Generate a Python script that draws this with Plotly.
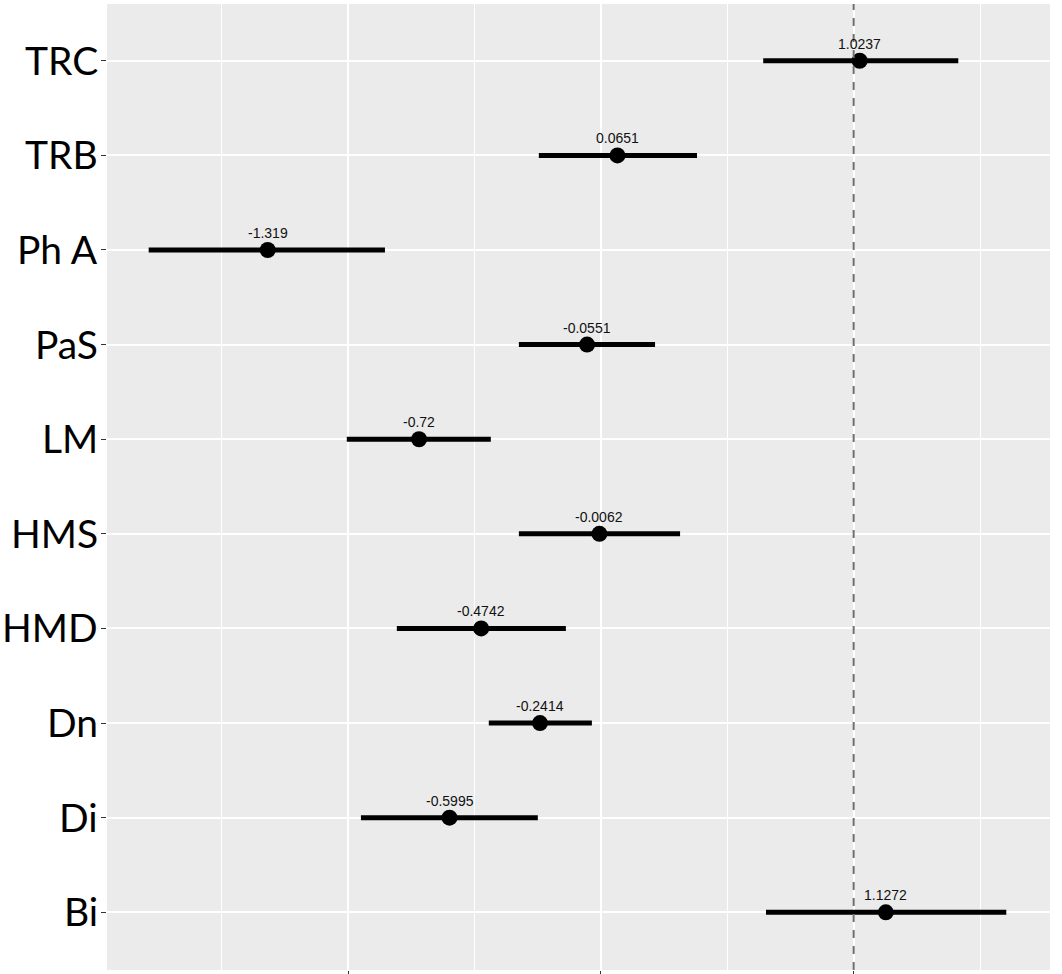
import plotly.graph_objects as go

categories = ["Bi", "Di", "Dn", "HMD", "HMS", "LM", "PaS", "Ph A", "TRB", "TRC"]
estimates = [1.1272, -0.5995, -0.2414, -0.4742, -0.0062, -0.72, -0.0551, -1.319, 0.0651, 1.0237]
lower = [0.653, -0.950, -0.444, -0.808, -0.325, -1.006, -0.325, -1.790, -0.246, 0.642]
upper = [1.604, -0.250, -0.036, -0.139, 0.313, -0.436, 0.214, -0.855, 0.380, 1.414]
labels = ["1.1272", "-0.5995", "-0.2414", "-0.4742", "-0.0062", "-0.72", "-0.0551", "-1.319", "0.0651", "1.0237"]
ref_value = 1

err_plus = [u - e for u, e in zip(upper, estimates)]
err_minus = [e - l for e, l in zip(estimates, lower)]

fig = go.Figure()
fig.add_trace(go.Scatter(
    x=estimates, y=categories, mode="markers",
    marker=dict(size=16, color="black"),
    error_x=dict(type="data", array=err_plus, arrayminus=err_minus,
                 thickness=5, width=0, color="black"),
    showlegend=False, hoverinfo="skip",
))

for x, y, t in zip(estimates, categories, labels):
    fig.add_annotation(x=x, y=y, text=t, showarrow=False, yshift=17,
                       font=dict(family="Liberation Sans, Arial", size=14, color="#111111"))

# category labels drawn as text next to the y axis ticks
for c in categories:
    fig.add_annotation(x=0, xref="paper", y=c, yref="y", text=c, showarrow=False,
                       xanchor="right", yanchor="middle", xshift=-7, yshift=1,
                       font=dict(family="Lato", size=39, color="black"))

fig.add_vline(x=ref_value, line=dict(color="#707070", width=2, dash="8px,8px"))

fig.update_layout(
    width=1062, height=974,
    margin=dict(l=107, r=12, t=4, b=4),
    paper_bgcolor="white", plot_bgcolor="#EBEBEB",
    font=dict(family="Lato, Noto Sans, sans-serif", color="black"),
)
fig.update_xaxes(
    range=[-1.955, 1.777], tick0=0, dtick=1, showticklabels=False,
    ticks="outside", ticklen=5, tickcolor="#333333", tickwidth=1,
    showgrid=True, gridcolor="white", gridwidth=1.5, zeroline=False,
    minor=dict(dtick=0.5, tick0=0, showgrid=True, gridcolor="white", gridwidth=1.2, ticks=""),
    showline=False, automargin=False,
)
fig.update_yaxes(
    type="category", categoryorder="array", categoryarray=categories,
    range=[-0.61, 9.6], showticklabels=False,
    ticks="outside", ticklen=5, tickcolor="#333333", tickwidth=1,
    showgrid=True, gridcolor="white", gridwidth=1.5, zeroline=False,
    automargin=False,
)

fig.write_html("out.html")
